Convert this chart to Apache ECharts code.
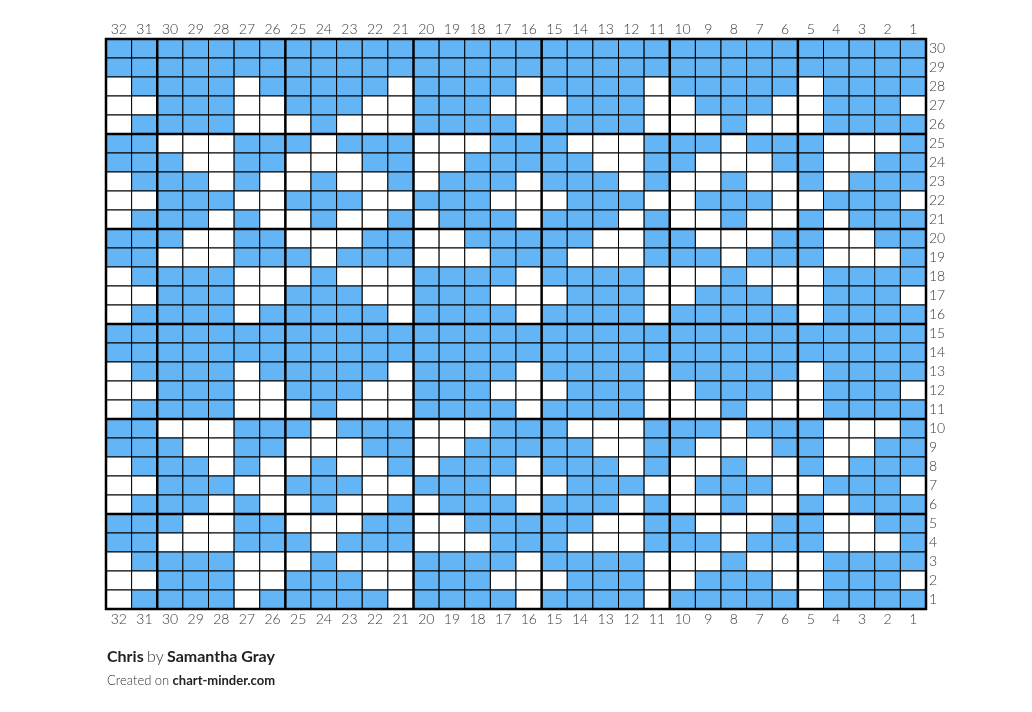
<!DOCTYPE html>
<html>
<head>
<meta charset="utf-8">
<script src="https://cdn.jsdelivr.net/npm/echarts@6/dist/echarts.min.js"></script>
<style>
html,body{margin:0;padding:0;background:#fff;}
#chart{width:1032px;height:712px;}
</style>
</head>
<body>
<div id="chart"></div>
<script>
// Column labels, left to right
const columnLabels = ['32','31','30','29','28','27','26','25','24','23','22','21','20','19','18','17','16','15','14','13','12','11','10','9','8','7','6','5','4','3','2','1'];
// Row labels, bottom to top
const rowLabels = ['1','2','3','4','5','6','7','8','9','10','11','12','13','14','15','16','17','18','19','20','21','22','23','24','25','26','27','28','29','30'];
// Cell colours per row, from row 30 (top) down to row 1; 1 = blue, 0 = white; columns 32 -> 1
const rowsTopDown = [
  '11111111111111111111111111111111', // 30
  '11111111111111111111111111111111', // 29
  '01111011111011110111101111101111', // 28
  '00111001110011100011100111001110', // 27
  '01111000100011110111100010001111', // 26
  '11000111011100011100011101110001', // 25
  '11100110001100111110011000110011', // 24
  '01110100100101110111010010010111', // 23
  '00111001110011100011100111001110', // 22
  '01110100100101110111010010010111', // 21
  '11100110001100111110011000110011', // 20
  '11000111011100011100011101110001', // 19
  '01111000100011110111100010001111', // 18
  '00111001110011100011100111001110', // 17
  '01111011111011110111101111101111', // 16
  '11111111111111111111111111111111', // 15
  '11111111111111111111111111111111', // 14
  '01111011111011110111101111101111', // 13
  '00111001110011100011100111001110', // 12
  '01111000100011110111100010001111', // 11
  '11000111011100011100011101110001', // 10
  '11100110001100111110011000110011', // 9
  '01110100100101110111010010010111', // 8
  '00111001110011100011100111001110', // 7
  '01110100100101110111010010010111', // 6
  '11100110001100111110011000110011', // 5
  '11000111011100011100011101110001', // 4
  '01111000100011110111100010001111', // 3
  '00111001110011100011100111001110', // 2
  '01111011111011110111101111101111'  // 1
];
const colors = ['#ffffff', '#64b5f6'];
const titleName = 'Chris';
const author = 'Samantha Gray';
const siteName = 'chart-minder.com';

const nCols = columnLabels.length, nRows = rowLabels.length;
const cells = [];
rowsTopDown.forEach((row, i) => {
  const yi = nRows - 1 - i;
  for (let xi = 0; xi < nCols; xi++) cells.push([xi, yi, +row[xi]]);
});
// thick guide lines every 5 stitches (counted from right / bottom), plus outer border
const guides = [];
for (let i = 0; i <= nCols; i++) { const fromRight = nCols - i; if (fromRight % 5 === 0 || i === 0) guides.push([0, i]); }
for (let j = 0; j <= nRows; j++) { if (j % 5 === 0 || j === nRows) guides.push([1, j]); }

const labelStyle = { color: '#3a3a3a', fontSize: 14, fontFamily: 'Lato', fontWeight: 300 };
const chart = echarts.init(document.getElementById('chart'), null, { renderer: 'canvas' });
chart.setOption({
  animation: false,
  grid: { left: 106, right: 106, top: 39, bottom: 103 },
  xAxis: [
    { type: 'category', data: columnLabels, position: 'top', axisLine: { show: false }, axisTick: { show: false }, axisLabel: Object.assign({ margin: 3, interval: 0 }, labelStyle), splitLine: { show: false } },
    { type: 'category', data: columnLabels, position: 'bottom', axisLine: { show: false }, axisTick: { show: false }, axisLabel: Object.assign({ margin: 3, interval: 0 }, labelStyle), splitLine: { show: false } }
  ],
  yAxis: { type: 'category', data: rowLabels, position: 'right', axisLine: { show: false }, axisTick: { show: false }, axisLabel: Object.assign({ margin: 3, interval: 0 }, labelStyle), splitLine: { show: false } },
  series: [
    {
      type: 'custom', data: cells, z: 2,
      renderItem: function (params, api) {
        const c = api.coord([api.value(0), api.value(1)]);
        const s = api.size([1, 1]);
        return { type: 'rect', shape: { x: c[0] - s[0] / 2, y: c[1] - s[1] / 2, width: s[0], height: s[1] },
          style: { fill: colors[api.value(2)], stroke: '#000', lineWidth: 1 } };
      }
    },
    {
      type: 'custom', data: guides, z: 3, silent: true,
      renderItem: function (params, api) {
        const cs = params.coordSys;
        const t = api.value(0), k = api.value(1);
        let shape;
        if (t === 0) { const x = cs.x + k * cs.width / nCols; shape = { x1: x, y1: cs.y - 1, x2: x, y2: cs.y + cs.height + 1 }; }
        else { const y = cs.y + cs.height - k * cs.height / nRows; shape = { x1: cs.x - 1, y1: y, x2: cs.x + cs.width + 1, y2: y }; }
        return { type: 'line', shape: shape, style: { stroke: '#000', lineWidth: 2.5 } };
      }
    }
  ],
  graphic: [
    { type: 'text', x: 107, y: 657, style: { verticalAlign: 'middle', text: '{b|' + titleName + '} {n|by} {b|' + author + '}', rich: {
      b: { fontFamily: 'Lato', fontSize: 16, fontWeight: 'bold', fill: '#222' },
      n: { fontFamily: 'Lato', fontSize: 16, fontWeight: 300, fill: '#333' } } } },
    { type: 'text', x: 107, y: 681, style: { verticalAlign: 'middle', text: '{n|Created on} {b|' + siteName + '}', rich: {
      b: { fontFamily: 'Lato', fontSize: 13, fontWeight: 'bold', fill: '#222' },
      n: { fontFamily: 'Lato', fontSize: 13, fontWeight: 300, fill: '#333' } } } }
  ]
});
</script>
</body>
</html>
